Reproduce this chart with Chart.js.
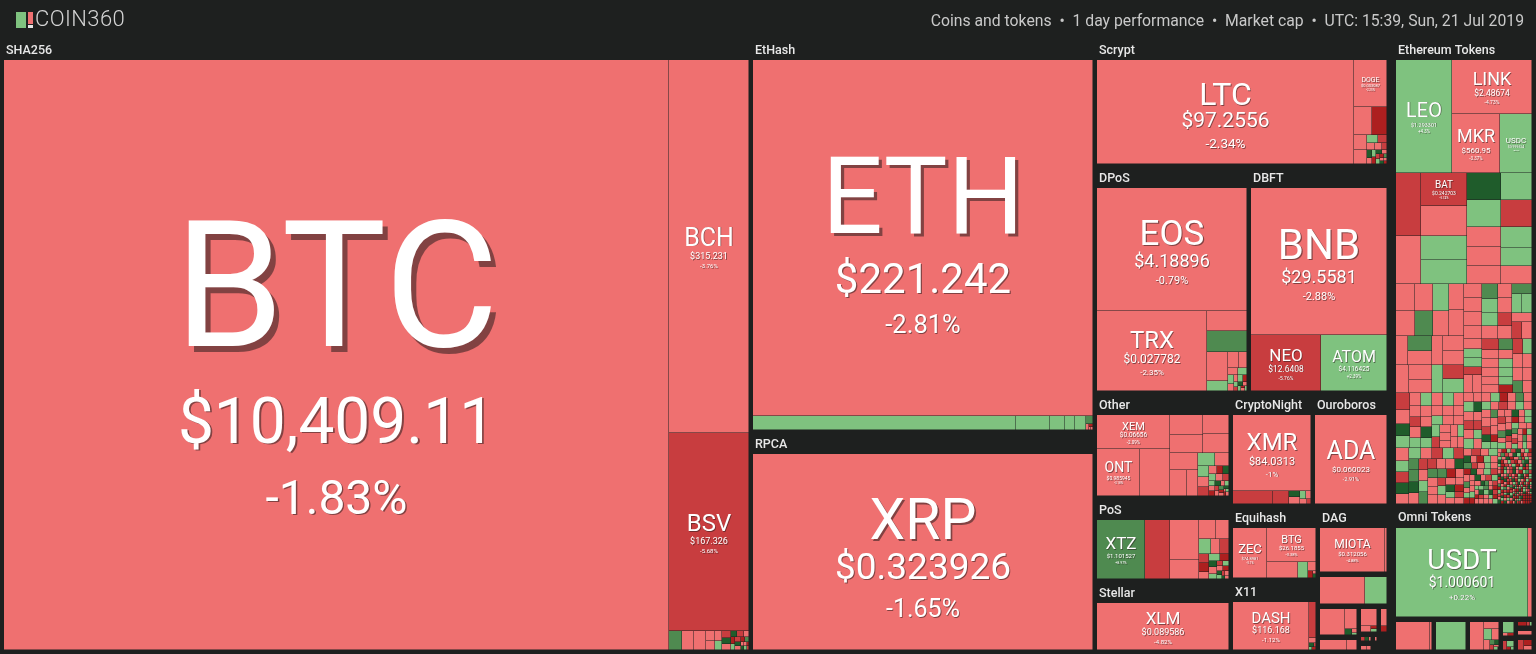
<!DOCTYPE html>
<html>
<head>
<meta charset="utf-8">
<title>COIN360</title>
<script src="https://cdn.jsdelivr.net/npm/chart.js@4"></script>
<style>
  html, body { margin: 0; background: #1e201f; overflow: hidden; }
  #map { position: absolute; left: 0; top: 0; }
  #top { position: absolute; left: 0; top: 0; width: 1536px; height: 38px; font-family: Roboto, sans-serif; color: #c9c9c9; }
  #logo { position: absolute; left: 35px; top: 6px; font-size: 22px; font-weight: 300; letter-spacing: 0.4px; color: #d4d4d4; }
  #info { position: absolute; right: 12px; top: 11px; font-size: 15.75px; white-space: pre; }
  .mark { position: absolute; }
</style>
</head>
<body>
<canvas id="map" width="1536" height="654"></canvas>
<div id="top">
  <div class="mark" style="left:16px;top:12px;width:10px;height:16px;background:#7fc27f"></div>
  <div class="mark" style="left:28px;top:12px;width:5px;height:12px;background:#ef7070"></div>
  <div class="mark" style="left:28px;top:25px;width:5px;height:3px;background:#e6e6e6"></div>
  <div id="logo">COIN360</div>
  <div id="info">Coins and tokens  •  1 day performance  •  Market cap  •  UTC: 15:39, Sun, 21 Jul 2019</div>
</div>
<script>
const sha256Coins = ['BTC', 'BCH', 'BSV'];
const sha256Prices = ['$10,409.11', '$315.231', '$167.326'];
const sha256Caps = [3923.5, 298.4, 158.4, 2.4, 2.3, 2.3, 0.87, 0.75, 0.74, 0.64, 0.6, 0.55, 0.5, 0.4, 0.4, 0.3, 0.3, 0.3, 0.25, 0.25, 0.2, 0.2, 0.2, 0.15, 0.15, 0.1, 0.1, 0.1, 0.1];
const sha256Changes = [-1.83, -3.76, -5.68, 7.2, -2.1, -3.2, -1.5, -2.4, -3.1, 2.6, -6.4, 13, -2, 12, -7, -2, -13, 3, -6, 14, -2, -12, 8, -3, 15, -2, -14, 3, -7];
const sha256Shape = ['x', 1, ['y', 1, 1, ['s']]];

const ethashCoins = ['ETH'];
const ethashPrices = ['$221.242'];
const ethashCaps = [1210.4, 36.8, 4.7, 2.06, 1.44, 1.5, 0.6, 0.2, 0.1, 0.07, 0.05];
const ethashChanges = [-2.81, 2.9, 1.8, 3.1, 4.2, 2.2, 7.5, -2, -12, -3, -2];
const ethashShape = ['y', 1, ['x', 1, 1, 1, 1, 1, ['s']]];

const rpcaCoins = ['XRP'];
const rpcaPrices = ['$0.323926'];
const rpcaCaps = [666];
const rpcaChanges = [-1.65];
const rpcaShape = ['y', 1];

const scryptCoins = ['LTC', 'DOGE'];
const scryptPrices = ['$97.2556', '$0.003087'];
const scryptCaps = [266, 15.6, 5.3, 4.2, 1.9, 1.9, 0.8, 0.7, 0.6, 0.5, 0.4, 0.4, 0.3, 0.3, 0.3, 0.2, 0.2, 0.2, 0.2, 0.15, 0.15, 0.1, 0.1, 0.1, 0.1];
const scryptChanges = [-2.34, -2.25, -2, -13, -2, -3, 2, -7, -2, -2, -6, 14, -2, 3, -13, 15, -2, -7, 2, -12, 8, -3, 14, -2, -14];
const scryptShape = ['x', 1, ['y', 1, ['s']]];

const dposCoins = ['EOS', 'TRX'];
const dposPrices = ['$4.18896', '$0.027782'];
const dposCaps = [184.5, 88, 8, 8, 6, 2.1, 1.8, 1.4, 0.7, 0.6, 0.5, 0.4, 0.3, 0.3, 0.3, 0.25, 0.2, 0.2, 0.15, 0.15, 0.1, 0.1, 0.1];
const dposChanges = [-0.79, -2.35, -2.1, 7.4, -2.6, 2.2, -1.9, -3, -2, 3, 2, -2, -2, 3, -13, 2, -7, 14, -2, 3, -12, -2, 2];
const dposShape = ['y', 1, ['x', 1, ['s']]];

const dbftCoins = ['BNB', 'NEO', 'ATOM'];
const dbftPrices = ['$29.5581', '$12.6408', '$4.116425'];
const dbftCaps = [200, 38.9, 37.2];
const dbftChanges = [-2.88, -5.76, 2.39];
const dbftShape = ['y', 1, ['x', 1, 1]];

const otherCoins = ['XEM', 'ONT'];
const otherPrices = ['$0.06656', '$0.985945'];
const otherCaps = [24.5, 20.2, 13.6, 6.6, 5.9, 4.9, 4.9, 4.8, 4.4, 2.9, 2.1, 1.7, 1.2, 1.0, 0.9, 0.7, 0.6, 0.5, 0.5, 0.4, 0.4, 0.3, 0.3, 0.3, 0.3, 0.2, 0.2, 0.2, 0.2, 0.2, 0.15, 0.15, 0.15, 0.1, 0.1, 0.1, 0.1];
const otherChanges = [-2.09, -3.18, -2.6, -2.2, -3.1, -1.7, -2.5, -2.9, -1.4, -3.3, 2.3, -2.1, 2.5, -2.7, -7, -2, -13, 14, 2, -2, -7, 3, -2, -13, 15, -3, 2, -7, -2, 8, -12, -2, 14, -3, 2, -13, -2];
const otherShape = ['x', ['y', 1, ['x', 1, 1]], ['y', ['x', ['y', 1, 1], ['y', 1, 1]], ['x', ['y', 1, ['x', 1, 1]], ['s']]]];

const posCoins = ['XTZ'];
const posPrices = ['$1.101527'];
const posCaps = [27.5, 14.7, 11.4, 5.4, 3.1, 2.4, 1.8, 1.3, 1.4, 0.9, 0.9, 0.7, 0.7, 0.6, 0.5, 0.5, 0.4, 0.3, 0.3, 0.3, 0.3, 0.2, 0.2, 0.2, 0.2, 0.1, 0.1];
const posChanges = [8.97, -6.8, -2.3, -2.8, -2.4, -2.1, 2.7, -2.5, -7, -7, -12, -2, 3, -13, 14, -2, 2, -6, 3, -2, -12, 15, 2, -7, -3, 14, -2];
const posShape = ['x', 1, 1, ['y', 1, 1], ['s']];

const stellarCoins = ['XLM'];
const stellarPrices = ['$0.089586'];
const stellarCaps = [61.5];
const stellarChanges = [-4.82];
const stellarShape = ['y', 1];

const cryptonightCoins = ['XMR'];
const cryptonightPrices = ['$84.0313'];
const cryptonightCaps = [59.3, 5.1, 2, 0.65, 0.8, 0.5, 0.4, 0.3, 0.2];
const cryptonightChanges = [-1, -6.1, -6.5, 14, -2.5, 3, -2, -3, -7];
const cryptonightShape = ['y', 1, ['s']];

const ouroborosCoins = ['ADA'];
const ouroborosPrices = ['$0.060023'];
const ouroborosCaps = [64];
const ouroborosChanges = [-2.91];
const ouroborosShape = ['y', 1];

const equihashCoins = ['ZEC', 'BTG'];
const equihashPrices = ['$74.8981', '$26.1855'];
const equihashCaps = [17, 16.3, 4.8, 1.6, 0.7, 0.4, 0.1, 0.1];
const equihashChanges = [-3.1, -3.38, -2.4, 2.1, -3, -13, -2, 14];
const equihashShape = ['x', 1, ['y', 1, ['s']]];

const x11Coins = ['DASH'];
const x11Prices = ['$116.168'];
const x11Caps = [35.2, 2.5, 0.3, 0.2, 0.1, 0.1, 0.1];
const x11Changes = [-1.12, -6.2, -2, 14, -7, 3, -13];
const x11Shape = ['x', 1, ['y', 1, ['s']]];

const dagCoins = ['MIOTA'];
const dagPrices = ['$0.312056'];
const dagCaps = [28.6, 0.9];
const dagChanges = [-4.88, -3.2];
const dagShape = ['x', 1, 1];

// the little groups with no room for a title
const smallCaps = {
  dag2: [11.7, 5.7], dag3: [6.2, 2.4, 0.4, 0.2, 0.1], dag4: [2.6, 1],
  dag5: [2.5, 0.6, 0.2, 0.15], dag6: [1, 0.35], dag7: [0.2, 0.15, 0.1], dag8: [0.1], dag9: [0.25, 0.15],
  omni2: [9, 0.6], omni3: [8.2], omni4: [3.3, 0.85, 0.63, 0.54, 0.5, 0.2, 0.15, 0.15, 0.1, 0.1],
  omni5: [1.25, 0.15, 0.15], omni6: [0.6, 0.5, 0.2, 0.1], omni7: [0.6, 0.2, 0.1], omni8: [0.5], omni9: [0.4, 0.3, 0.2]
};
const smallChanges = {
  dag2: [-2.2, 2.4], dag3: [-2.5, -3.1, 15, -2, 3], dag4: [-2.4, -1.8],
  dag5: [-2.6, -2.1, -13, 3], dag6: [-2.3, -13], dag7: [-7, 14, -2], dag8: [-3], dag9: [-2, -3],
  omni2: [-2.1, -3.2], omni3: [1.9], omni4: [-2.3, -2.8, 2.2, -2.4, -3, 7, 14, -6, -2, 3],
  omni5: [2.4, -3, -13], omni6: [-7, 2, -13, 3], omni7: [-13, -7, 2], omni8: [-2.4], omni9: [-7, -13, -2]
};

const tokenCoins = ['LEO', 'LINK', 'MKR', 'USDC', '', '', 'BAT'];
const tokenPrices = ['$1.293301', '$2.48674', '$560.95', '$0.999524', '', '', '$0.242703'];
const tokenCaps = [
  62.7, 43.2, 27.8, 18.6,
  15.6, 11.9, 15.2, 14, 11, 11, 9.2, 9, 6.8, 6.6, 6, 8.4, 8.2, 6.5, 5.7, 5.4,
  5, 4.6, 4.9, 4.5, 4.1, 3.8, 4, 3.8,
  3.5, 3.8, 3.4, 3.3, 3.1, 2.9,
  3.5, 3.5, 3.1, 3.1, 2.9, 2.8,
  2.5, 2.5, 2.4, 2.4, 2.4, 2.3, 2.2, 2.2, 2, 2, 1.8, 1.9, 2, 1.9, 1.9, 1.8, 1.7, 1.7,
  1.7, 1.6, 1.6, 1.5, 1.65, 1.55, 1.7, 1.6, 1.5, 1.5, 1.4, 1.4, 1.5, 1.3, 1.4, 1.2, 1.2, 1.2, 1.4, 1.3, 1.2, 1.2, 1.35, 1.25, 1.15, 1.15,
  // lower left
  2.2, 1.9, 1.7, 1.6, 1.5, 1.4, 1.4, 1.3, 1.3, 1.3, 1.2, 1.2, 1.2, 1.2, 1.1, 1.1, 1.1, 1.1, 1, 1, 1, 1, 0.9, 0.9, 0.9, 0.9, 0.8, 0.8, 0.8, 0.7, 0.7, 0.7,
  1.7, 1.5, 1.4, 1.4, 1.3, 1.3, 1.2, 1.2, 1.2, 1.1, 1.1, 1.1, 1.1, 1, 1, 1, 1, 1, 0.9, 0.9, 0.9, 0.9, 0.9, 0.8, 0.8, 0.8, 0.8, 0.8, 0.7, 0.7, 0.7, 0.7, 0.7, 0.6, 0.6, 0.6, 0.6, 0.5, 0.5, 0.5,
  // lower right, top part
  0.9, 0.9, 0.9, 0.9, 0.9, 0.9, 0.8, 0.8, 0.8, 0.8, 0.8, 0.8, 0.8, 0.8, 0.7, 0.7, 0.7, 0.7, 0.7, 0.7, 0.7, 0.7,
  0.6, 0.6, 0.6, 0.6, 0.6, 0.6, 0.6, 0.6, 0.6, 0.6, 0.5, 0.5, 0.5, 0.5, 0.5, 0.5, 0.5, 0.5, 0.5, 0.5,
  0.4, 0.4, 0.4, 0.4, 0.4, 0.4, 0.4, 0.4, 0.4, 0.4, 0.4, 0.4, 0.3, 0.3, 0.3, 0.3, 0.3, 0.3, 0.3, 0.3, 0.3, 0.3, 0.3, 0.3, 0.3, 0.3,
  // bottom middle
  0.6, 0.6, 0.6, 0.6, 0.5, 0.5, 0.5, 0.5, 0.5, 0.5, 0.4, 0.4, 0.4, 0.4, 0.4, 0.4, 0.4, 0.4, 0.4, 0.4,
  0.3, 0.3, 0.3, 0.3, 0.3, 0.3, 0.3, 0.3, 0.3, 0.3, 0.3, 0.3, 0.3, 0.3,
  0.2, 0.2, 0.2, 0.2, 0.2, 0.2, 0.2, 0.2, 0.2, 0.2, 0.2, 0.2, 0.2, 0.2, 0.2, 0.2, 0.2, 0.2, 0.2, 0.2, 0.2, 0.2, 0.2, 0.2,
  // bottom right corner, the finest cells
  0.2, 0.2, 0.2, 0.2, 0.2, 0.2,
  0.15, 0.15, 0.15, 0.15, 0.15, 0.15, 0.15, 0.15, 0.15, 0.15, 0.15, 0.15, 0.15, 0.15, 0.15, 0.15,
  0.12, 0.12, 0.12, 0.12, 0.12, 0.12, 0.12, 0.12, 0.12, 0.12, 0.12, 0.12, 0.12, 0.12, 0.12, 0.12, 0.12, 0.12, 0.12, 0.12,
  0.1, 0.1, 0.1, 0.1, 0.1, 0.1, 0.1, 0.1, 0.1, 0.1, 0.1, 0.1, 0.1, 0.1, 0.1, 0.1, 0.1, 0.1, 0.1, 0.1,
  0.1, 0.1, 0.1, 0.1, 0.1, 0.1, 0.1, 0.1, 0.1, 0.1, 0.1, 0.1, 0.1, 0.1, 0.1, 0.1, 0.1, 0.1, 0.1, 0.1,
  0.08, 0.08, 0.08, 0.08, 0.08, 0.08, 0.08, 0.08, 0.08, 0.08, 0.08, 0.08, 0.08, 0.08, 0.08, 0.08, 0.08, 0.08, 0.08, 0.08,
  0.08, 0.08, 0.08, 0.08, 0.08, 0.08, 0.08, 0.08, 0.08, 0.08, 0.08, 0.08, 0.08, 0.08, 0.08, 0.08, 0.08, 0.08, 0.08, 0.08,
  0.08, 0.08, 0.08, 0.08, 0.08, 0.08, 0.08, 0.08, 0.08, 0.08, 0.08, 0.08, 0.08, 0.08, 0.08, 0.08, 0.08, 0.08, 0.08, 0.08,
  0.05, 0.05, 0.05, 0.05, 0.05, 0.05, 0.05, 0.05, 0.05, 0.05, 0.05, 0.05, 0.05, 0.05, 0.05, 0.05, 0.05, 0.05, 0.05, 0.05,
  0.05, 0.05, 0.05, 0.05, 0.05, 0.05, 0.05, 0.05, 0.05, 0.05, 0.05, 0.05, 0.05, 0.05, 0.05, 0.05, 0.05, 0.05, 0.05, 0.05,
  0.05, 0.05, 0.05, 0.05, 0.05, 0.05, 0.05, 0.05, 0.05, 0.05, 0.05, 0.05, 0.05, 0.05, 0.05, 0.05, 0.05, 0.05, 0.05, 0.05,
  0.05, 0.05, 0.05, 0.05, 0.05, 0.05, 0.05, 0.05, 0.05, 0.05, 0.05, 0.05, 0.05, 0.05, 0.05, 0.05, 0.05, 0.05, 0.05, 0.05
];
const tokenChanges = [
  4.3, -4.73, -3.37, 0.04,
  -6.5, -2.5, -5.74, -3.1, 1.9, 2.4, 14, 3, -2, -1.4, -3.5, 1.2, -7.1, 2.2, 0.8, -2.7,
  -2.1, -3, -1.6, 7.2, 2.3, -2.2, -1.9, -3.1,
  -2.4, 7.6, -2, -2.9, -1.7, -3.3,
  -2.2, -1.4, -3, 2.6, -7.3, 2.1,
  -2, -3, -1.5, -2.6, 7.1, 2.5, 3.2, -2.2, -3.1, -1.9, -7.4, -2.5, 6.8, 2.2, 1.4, -3.2, -6.9, -2,
  -2, 2, 2, -7, -2, -3, -7, -2, -3, -1, -2, -2, 7, -2, 2, 3, 1, -13, -7, -2, -3, 7, 2, -3, -2, -2,
  -6, -2, 14, 2, -1, 3, -3, 4, -2, -3, -7, -2, 3, -1, -2, 12, 3, -3, -4, -2, 2, -1, -3, 3, -7, -2, -1, -3, -2, 2, -1, -3,
  -2, 2, -6, 14, -3, 2, -2, -6, 3, -8, 7, 8, 14, -2, -7, -3, 3, 7, -6, -1, -2, 15, 7, -3, -2, -2, 9, -12, -3, -7, 2, -2, -2, -1, 14, -13, 3, -2, -7, -2,
  -2, 2, -3, -8, -2, 3, -1, 14, -2, -7, 3, -2, -4, 2, -14, -2, 8, -3, 2, -2, -1, -6, 15, 3, -2, -8, -3, 2, -2, 7, -2, -1, -12, 2, -3, -2, 16, -2, 3, -7, -2, 8, -1, 2, -3, -13, -2, 3, -2, 15, -6, -2, 2, -3, -1, 9, -2, -7, 3, -2, -14, 2, -1, -3, 8, -2, 3, -2,
  -2, -7, -2, 3, 15, -3, -13, 2, -2, 8, -6, -2, 3, -1, -14, 16, -2, 2, -7, -3, 9, -2, 3, -13, -1, 15, -2, -8, 2, -3, -2, 3, -12, -2, 16, 7, -3, -7, 2, -1, -14, -2, 3, 15, -6, -2, 8, -3, -13, 2, -2, -1, 14, -7, 3, -2, -12, 2,
  -2, -13, 2, -7, 15, -2, 3, -14, -1, 8, -6, -3, 16, 2, -12, -2, -8, 3, -2, 14,
  -13, -2, 7, -7, 2, -3, 15, -14, -1, 3, -6, -12, -2, 9, 16, -3, 2, -13, -7, -2,
  3, -14, -2, 15, -8, 2, -1, -12, 8, -3, -6, 14, -2, 3, -13, -7, 2, -2, 16, -14,
  -3, 7, -12, 2, -6, -2, 15, -13, 3, -1, -8, 14, -2, -14, 2, 9, -7, -3, 16, -12,
  -2, 3, -13, -6, 15, 2, -14, -2, 8, -7, -1, -12, 3, 14, -3, -13, 2, -8, 16, -2,
  -14, 7, -6, 3, -12, -2, 15, -13, 2, -7, -3, 9, 14, -14, -1, 2, -6, -12, 3, -2,
  -13, 16, -7, 2, -2, -8, 15, -14, 3, -3, -12, 2, -13, -2, 7, -14, -7, 3, 16, -2,
  -12, 2, -6, 15, -3, -13, 8, -2, -14, 3, -7, 14, -2, 2, -12, -8, 16, -3, 7, -13,
  -2, 3, -14, -6, 15, -2, 2, -12, -7, 9, -13, -3, 14, -2, 3, -14, 2, -8, 16, -2,
  -13, 7, -2, -12, 3, -6, 15, -14, 2, -3, -7, 14, -2, -13, 8, 2, -12, -2, 16, -14,
  -3, 3, -7, 15, -13, -2
];
const tokenShape = ['y',
  ['x', 1, ['y', 1, ['x', 1, 1]]],
  ['x', ['y', 1, 1], ['y', 1, 1, 1, 1], ['y', 1, 1, 1, 1, 1], ['y', 1, 1, 1, 1, 1]],
  ['x',
    ['y',
      ['x', ['y', 1, 1], ['y', 1, 1], ['y', 1, 1], ['y', 1, 1]],
      ['x', 1, ['y', 1, 1], 1, ['y', 1, 1]],
      ['x', 1, ['y', 1, 1], 1, ['y', 1, 1]]],
    ['y',
      ['x', ['y', 1, 1, 1, 1], ['y', 1, 1, 1, 1], ['y', 1, 1, 1, 1], ['y', 1, ['x', 1, 1], 1, ['x', 1, 1]]],
      ['x', ['y', 1, 1, 1, 1, ['x', 1, 1]], ['y', 1, 1, 1, 1, 1, 1], ['y', 1, 1, 1, 1, 1, 1], ['y', 1, 1, 1, 1], ['y', 1, 1, 1, 1]]]],
  ['x',
    ['y', ['s', 32], ['s', 40]],
    ['y', ['s', 68], ['x', ['s', 58], ['s']]]]
];

const omniCoins = ['USDT'];
const omniPrices = ['$1.000601'];
const omniCaps = [119, 3.3];
const omniChanges = [0.22, -2.6];
const omniShape = ['x', 1, 1];

// share of the map per group, thousands
const groupNames = ['SHA256', 'EtHash', 'RPCA', 'Scrypt', 'DPoS', 'DBFT', 'Other', 'PoS', 'Stellar', 'CryptoNight', 'Ouroboros', 'Equihash', 'X11', 'DAG', 'dag2', 'dag3', 'dag4', 'dag5', 'dag6', 'dag7', 'dag8', 'dag9', 'gapA', 'gapB', 'gapC', 'Ethereum Tokens', 'Omni Tokens', 'omni2', 'omni3', 'omni4', 'omni5', 'omni6', 'omni7', 'omni8', 'omni9'];
const groupCaps = [459.886, 135.536, 75.68, 37.632, 34.958, 31.78, 14.28, 11.288, 9.656, 9.266, 8.588, 6.438, 6.264, 4.828, 2.272, 1.271, 0.615, 0.56, 0.28, 0.126, 0.054, 0.126, 0.09, 0.144, 3.07, 65.45, 15.89, 1.32, 1.122, 1.0725, 0.285, 0.21, 0.1665, 0.1665, 0.2775];
const mapShape = ['x', 'SHA256', ['y', 'EtHash', 'RPCA'],
  ['x',
    ['y', 'Scrypt', ['x', 'DPoS', 'DBFT'],
      ['x', ['y', 'Other', 'PoS', 'Stellar'],
        ['y', ['x', 'CryptoNight', 'Ouroboros'],
          ['x', ['y', 'Equihash', 'X11'],
            ['y', 'DAG', 'dag2',
              ['x', ['y', 'dag3', 'dag4'],
                ['y', ['x', 'dag5', 'dag6'], ['x', 'dag7', 'dag8', 'gapA'], ['x', 'dag9', 'gapB']]]]]]]],
    'gapC',
    ['y', 'Ethereum Tokens', 'Omni Tokens',
      ['x', 'omni2', 'omni3', 'omni4', ['y', 'omni5', 'omni6'], ['y', 'omni7', 'omni8', 'omni9']]]]];

// name, price, change font sizes for the cells big enough to carry text
const labelFonts = {
  BTC: [176, 64, 48], BCH: [25, 9, 6], BSV: [24, 9, 6], ETH: [107, 42, 25.5], XRP: [57, 37, 25],
  LTC: [32, 21, 13.5], DOGE: [7, 4, 3], EOS: [35, 18, 11], TRX: [24, 12, 8], BNB: [42, 18, 11],
  NEO: [17, 8.5, 5], ATOM: [16, 6.5, 4.5], XEM: [11, 6.5, 4.5], ONT: [14, 5, 3], XMR: [24, 11, 8],
  ADA: [25, 8, 5.5], XTZ: [17, 6, 3.5], ZEC: [13, 4, 3], BTG: [11, 6, 4], MIOTA: [12, 6, 4],
  XLM: [17, 9, 6], DASH: [15, 9, 6], LEO: [20, 5.5, 4.5], LINK: [18, 8.5, 5], MKR: [18, 8, 4.5],
  USDC: [8, 3.5, 2], BAT: [10, 5, 3], USDT: [28, 14, 8]
};

const mapWidth = 1532;
const mapHeight = 614;

function changeColor(c) {
  if (c >= 10) return '#1f5c2b';
  if (c >= 5) return '#4f8a50';
  if (c >= 0) return '#7fc27f';
  if (c > -5) return '#ef7070';
  if (c > -10) return '#c83d3f';
  return '#ad1f1f';
}

function formatChange(c) {
  return (c > 0 ? '+' : '') + c + '%';
}

function sum(list) {
  return list.reduce((a, b) => a + b, 0);
}

// squarified rows for the long tails
function squarify(values, rect, out, start) {
  let {x0, y0, x1, y1} = rect;
  const scale = (x1 - x0) * (y1 - y0) / sum(values);
  let i = 0;
  while (i < values.length) {
    const w = x1 - x0;
    const h = y1 - y0;
    const side = Math.min(w, h);
    let rowSum = 0;
    let best = Infinity;
    let n = i;
    while (n < values.length) {
      const area = values[n] * scale;
      const nextSum = rowSum + area;
      const thick = nextSum / side;
      const first = values[i] * scale / thick;
      const worst = Math.max(thick * thick / area, first / thick);
      if (worst > best) break;
      best = worst;
      rowSum = nextSum;
      n++;
    }
    const thick = rowSum / side;
    let pos = 0;
    for (let k = i; k < n; k++) {
      const len = values[k] * scale / thick;
      if (h >= w) {
        out[start + k] = {x0: x0 + pos, x1: x0 + pos + len, y0, y1: y0 + thick};
      } else {
        out[start + k] = {x0, x1: x0 + thick, y0: y0 + pos, y1: y0 + pos + len};
      }
      pos += len;
    }
    if (h >= w) y0 += thick; else x0 += thick;
    i = n;
  }
}

function measure(shape, caps, start) {
  if (shape === 1) return {kind: 'cell', index: start, count: 1, size: caps[start]};
  if (shape[0] === 's') {
    const count = shape[1] || caps.length - start;
    return {kind: 's', index: start, count, size: sum(caps.slice(start, start + count))};
  }
  let at = start;
  const kids = shape.slice(1).map(k => {
    const m = measure(k, caps, at);
    at += m.count;
    return m;
  });
  return {kind: shape[0], kids, count: at - start, size: sum(kids.map(k => k.size))};
}

function place(node, rect, caps, out) {
  if (node.kind === 'cell') {
    out[node.index] = rect;
  } else if (node.kind === 's') {
    squarify(caps.slice(node.index, node.index + node.count), rect, out, node.index);
  } else {
    let pos = node.kind === 'x' ? rect.x0 : rect.y0;
    const span = node.kind === 'x' ? rect.x1 - rect.x0 : rect.y1 - rect.y0;
    node.kids.forEach(kid => {
      const len = span * kid.size / node.size;
      const r = node.kind === 'x' ? {...rect, x0: pos, x1: pos + len} : {...rect, y0: pos, y1: pos + len};
      place(kid, r, caps, out);
      pos += len;
    });
  }
}

function groupWeight(shape) {
  if (typeof shape === 'string') return groupCaps[groupNames.indexOf(shape)];
  return sum(shape.slice(1).map(groupWeight));
}

function placeGroups(shape, rect, out) {
  if (typeof shape === 'string') {
    out[shape] = rect;
    return;
  }
  const horizontal = shape[0] === 'x';
  let pos = horizontal ? rect.x0 : rect.y0;
  const span = horizontal ? rect.x1 - rect.x0 : rect.y1 - rect.y0;
  const total = groupWeight(shape);
  shape.slice(1).forEach(kid => {
    const len = span * groupWeight(kid) / total;
    placeGroups(kid, horizontal ? {...rect, x0: pos, x1: pos + len} : {...rect, y0: pos, y1: pos + len}, out);
    pos += len;
  });
}

const groupTable = {
  SHA256: [sha256Coins, sha256Prices, sha256Caps, sha256Changes, sha256Shape],
  EtHash: [ethashCoins, ethashPrices, ethashCaps, ethashChanges, ethashShape],
  RPCA: [rpcaCoins, rpcaPrices, rpcaCaps, rpcaChanges, rpcaShape],
  Scrypt: [scryptCoins, scryptPrices, scryptCaps, scryptChanges, scryptShape],
  DPoS: [dposCoins, dposPrices, dposCaps, dposChanges, dposShape],
  DBFT: [dbftCoins, dbftPrices, dbftCaps, dbftChanges, dbftShape],
  Other: [otherCoins, otherPrices, otherCaps, otherChanges, otherShape],
  PoS: [posCoins, posPrices, posCaps, posChanges, posShape],
  Stellar: [stellarCoins, stellarPrices, stellarCaps, stellarChanges, stellarShape],
  CryptoNight: [cryptonightCoins, cryptonightPrices, cryptonightCaps, cryptonightChanges, cryptonightShape],
  Ouroboros: [ouroborosCoins, ouroborosPrices, ouroborosCaps, ouroborosChanges, ouroborosShape],
  Equihash: [equihashCoins, equihashPrices, equihashCaps, equihashChanges, equihashShape],
  X11: [x11Coins, x11Prices, x11Caps, x11Changes, x11Shape],
  DAG: [dagCoins, dagPrices, dagCaps, dagChanges, dagShape],
  'Ethereum Tokens': [tokenCoins, tokenPrices, tokenCaps, tokenChanges, tokenShape],
  'Omni Tokens': [omniCoins, omniPrices, omniCaps, omniChanges, omniShape]
};

function buildCells() {
  const rects = {};
  placeGroups(mapShape, {x0: 0, y0: 0, x1: mapWidth, y1: mapHeight}, rects);
  const cells = [];
  const titles = [];
  groupNames.forEach(name => {
    const outer = rects[name];
    const row = groupTable[name];
    const caps = row ? row[2] : smallCaps[name];
    if (!caps) return;
    const inner = {x0: outer.x0 + 2, x1: outer.x1 - 2, y0: outer.y0 + (row ? 22 : 3), y1: outer.y1 - 2};
    if (row) titles.push({name, x: inner.x0 + 2, y: inner.y0 - 11});
    const shape = row ? row[4] : ['s'];
    const changes = row ? row[3] : smallChanges[name];
    const out = [];
    place(measure(shape, caps, 0), inner, caps, out);
    out.forEach((r, i) => {
      cells.push({
        ...r,
        color: changeColor(changes[i]),
        coin: row ? row[0][i] : '',
        price: row ? row[1][i] : '',
        change: formatChange(changes[i])
      });
    });
  });
  return {cells, titles};
}

class CellElement extends Chart.Element {
  static id = 'cell';
  static defaults = {};

  draw(ctx) {
    const {x, y, w, h, color, coin, price, change} = this;
    ctx.fillStyle = color;
    ctx.fillRect(x, y, w, h);
    ctx.fillStyle = 'rgba(30,32,31,0.5)';
    ctx.fillRect(x + w - 1, y, 1, h);
    ctx.fillRect(x, y + h - 1, w, 1);
    const fonts = coin && labelFonts[coin];
    if (!fonts) return;
    const [f1, f2, f3] = fonts;
    const gap1 = 0.7 * f1 + 0.2 * f2;
    const gap2 = 0.6 * f2 + 0.8 * f3;
    const nameMid = y + h / 2 + 0.2 * f1 - (gap1 + gap2) / 2;
    const lines = [[coin, f1, nameMid], [price, f2, nameMid + gap1], [change, f3, nameMid + gap1 + gap2]];
    ctx.save();
    ctx.textAlign = 'center';
    ctx.textBaseline = 'alphabetic';
    ctx.fillStyle = '#ffffff';
    lines.forEach(([text, size, mid]) => {
      ctx.font = '400 ' + size + 'px Roboto';
      ctx.shadowColor = 'rgba(40,30,30,0.55)';
      ctx.shadowBlur = 0;
      ctx.shadowOffsetX = ctx.shadowOffsetY = Math.max(0.8, size * 0.03);
      ctx.fillText(text, x + w / 2, mid + 0.355 * size);
    });
    ctx.restore();
  }
}

class TreemapController extends Chart.DatasetController {
  static id = 'treemap';
  static defaults = {dataElementType: 'cell', datasetElementType: false};

  update(mode) {
    const meta = this._cachedMeta;
    this.updateElements(meta.data, 0, meta.data.length, mode);
  }

  updateElements(elements, start, count, mode) {
    const {xScale, yScale} = this._cachedMeta;
    const data = this.getDataset().data;
    for (let i = start; i < start + count; i++) {
      const d = data[i];
      const x = Math.round(xScale.getPixelForValue(d.x0));
      const y = Math.round(yScale.getPixelForValue(d.y0));
      this.updateElement(elements[i], i, {
        x,
        y,
        w: Math.round(xScale.getPixelForValue(d.x1)) - x,
        h: Math.round(yScale.getPixelForValue(d.y1)) - y,
        color: d.color,
        coin: d.coin,
        price: d.price,
        change: d.change
      }, mode);
    }
  }
}

Chart.register(CellElement, TreemapController);

const {cells, titles} = buildCells();

const groupTitles = {
  id: 'groupTitles',
  afterDatasetsDraw(chart) {
    const {ctx, scales} = chart;
    ctx.save();
    ctx.font = '500 12.5px Roboto';
    ctx.fillStyle = '#e8e8e8';
    ctx.textBaseline = 'alphabetic';
    titles.forEach(t => {
      ctx.fillText(t.name, scales.x.getPixelForValue(t.x), scales.y.getPixelForValue(t.y) + 4.5);
    });
    ctx.restore();
  }
};

new Chart(document.getElementById('map'), {
  type: 'treemap',
  data: {datasets: [{data: cells, parsing: false}]},
  options: {
    responsive: false,
    animation: false,
    events: [],
    layout: {padding: {left: 2, right: 2, top: 38, bottom: 2}},
    plugins: {legend: {display: false}, tooltip: {enabled: false}},
    scales: {
      x: {type: 'linear', display: false, min: 0, max: mapWidth},
      y: {type: 'linear', display: false, min: 0, max: mapHeight, reverse: true}
    }
  },
  plugins: [groupTitles]
});
</script>
</body>
</html>
